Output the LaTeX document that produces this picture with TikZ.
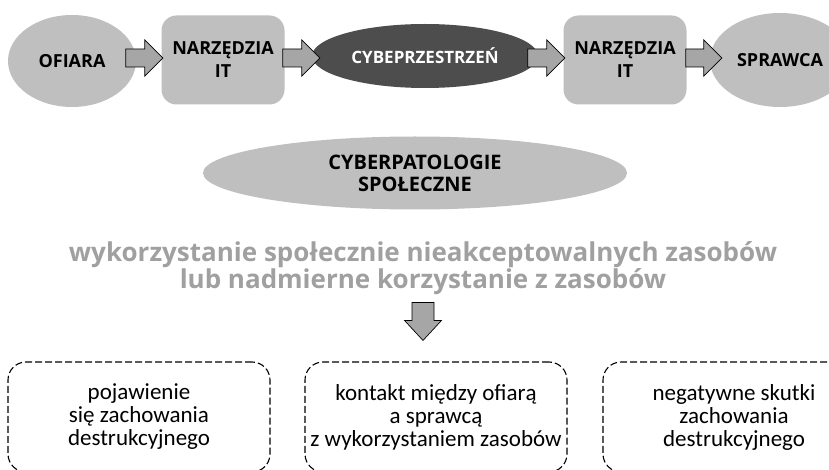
\documentclass[tikz,border=0pt]{standalone}
\usepackage{fontspec}
\setmainfont{Carlito}
\newfontfamily\headfont{Open Sans}
\usetikzlibrary{shapes.geometric}
\definecolor{cplight}{RGB}{191,191,191}
\definecolor{cpdark}{RGB}{77,77,77}
\definecolor{cparrow}{RGB}{166,166,166}
\definecolor{cptext}{RGB}{160,160,160}

\begin{document}
\begin{tikzpicture}[x=1pt,y=-1pt,
    role/.style={ellipse,fill=cplight,inner sep=0pt,font=\headfont\bfseries\fontsize{18}{23}\selectfont},
    tool/.style={rectangle,rounded corners=15pt,fill=cplight,minimum width=123pt,minimum height=89pt,align=center,font=\headfont\bfseries\fontsize{18}{23}\selectfont},
    effect/.style={draw,dash pattern=on 7pt off 3pt,rounded corners=18pt,line width=1.1pt,minimum width=262pt,minimum height=110pt,align=center,font=\fontsize{23}{23}\selectfont},
    % block arrow: length / shaft / head width / head length, tip at the origin
    pics/blockarr/.style n args={4}{code={
      \draw[fill=cparrow,line width=.7pt,line join=miter] (-#1,-#2/2) -- (-#4,-#2/2) -- (-#4,-#3/2) -- (0,0)
        -- (-#4,#3/2) -- (-#4,#2/2) -- (-#1,#2/2) -- cycle;}}]
  \useasboundingbox (0,0) rectangle (829,470);
  % chain on top
  \node[role,minimum width=128pt,minimum height=92pt] (ofiara) at (72,61) {OFIARA};
  \node[tool] (narz1) at (223,60) {NARZĘDZIA\\IT};
  \node[role,fill=cpdark,text=white,minimum width=226pt,minimum height=64pt,font=\headfont\bfseries\fontsize{17}{22}\selectfont] (cyber) at (425,56) {CYBEPRZESTRZEŃ};
  \node[tool] (narz2) at (625,60) {NARZĘDZIA\\IT};
  \node[role,minimum width=140pt,minimum height=94pt] (sprawca) at (780,60) {SPRAWCA};
  \pic at ([xshift=1.5pt,yshift=2pt]narz1.west) {blockarr={37}{18}{36}{18}};
  \pic at ([xshift=8pt,yshift=2pt]cyber.west |- narz1.west) {blockarr={37}{18}{36}{18}};
  \pic at ([xshift=1.5pt,yshift=2pt]narz2.west) {blockarr={37}{18}{36}{18}};
  \pic at ([xshift=12pt,yshift=2pt]sprawca.west) {blockarr={36}{18}{36}{18}};
  % middle part
  \node[role,minimum width=424pt,minimum height=73pt,align=center,font=\headfont\bfseries\fontsize{20}{22}\selectfont] (pato) at (415,173) {CYBERPATOLOGIE\\SPOŁECZNE};
  \node[text=cptext,align=center,font=\headfont\bfseries\fontsize{26}{26}\selectfont] (zasoby) at (423,268) {wykorzystanie społecznie nieakceptowalnych zasobów\\lub nadmierne korzystanie z zasobów};
  % effects
  \node[effect] (skutek1) at (139,417) {pojawienie\\się zachowania\\destrukcyjnego};
  \node[effect] (skutek2) at (436,417) {kontakt między ofiarą\\a sprawcą\\z wykorzystaniem zasobów};
  \node[effect] (skutek3) at (734,417) {negatywne skutki\\zachowania\\destrukcyjnego};
  \pic[rotate=-90] at ([xshift=-13pt,yshift=21pt]skutek2.north) {blockarr={38}{22}{37}{20}};
\end{tikzpicture}
\end{document}
